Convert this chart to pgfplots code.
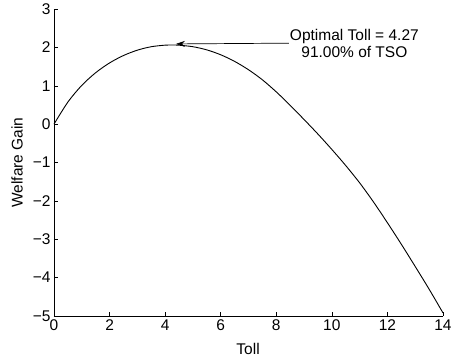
\documentclass[border=0pt]{standalone}
\usepackage{fontspec}
\setmainfont{Liberation Sans}
\usepackage{pgfplots}
\pgfplotsset{compat=1.18}
\usetikzlibrary{arrows.meta}
\begin{document}
\begin{tikzpicture}[font=\fontsize{15.5}{17}\selectfont]
\useasboundingbox (-54pt,-44pt) rectangle (397pt,316pt);
\begin{axis}[
  at={(0,0)}, anchor=south west,
  scale only axis, width=389pt, height=307pt,
  xmin=0, xmax=14, ymin=-5, ymax=3,
  axis x line*=bottom, axis y line*=left,
  axis line style={-, line width=0.6pt},
  xtick={0,2,...,14}, ytick={-5,-4,...,3},
  yticklabels={−5,−4,−3,−2,−1,0,1,2,3},
  tick align=inside, major tick length=4pt,
  tick style={black, line width=0.5pt},
  /pgf/number format/assume math mode=true,
  tick label style={font=\fontsize{15.5}{17}\selectfont},
  label style={font=\fontsize{15.5}{17}\selectfont},
  xlabel={Toll}, ylabel={Welfare Gain},
  xlabel style={at={(axis description cs:0.499,-0.107)}, anchor=center},
  ylabel style={at={(axis description cs:-0.095,0.5)}, anchor=center},
  clip=false,
]
\addplot[black, line width=0.9pt, smooth] coordinates {
(0,0) (0.5,0.575) (1,1.01) (1.5,1.34) (2,1.595) (2.5,1.7875) (3,1.9275)
(3.5,2.0175) (4,2.058) (4.27,2.062) (4.5,2.057) (5,2.0175) (5.5,1.935)
(6,1.8075) (6.5,1.635) (7,1.4175) (7.5,1.155) (8,0.84) (8.5,0.49)
(9,0.12) (9.5,-0.26) (10,-0.66) (10.5,-1.08) (11,-1.53) (11.5,-2.03)
(12,-2.57) (12.5,-3.13) (13,-3.71) (13.5,-4.30) (14,-4.92)
};
\draw[-{Stealth[length=9pt,width=6pt,inset=3pt]}, line width=0.7pt] (axis cs:8.45,2.11) -- (axis cs:4.39,2.09);
\node[anchor=west, align=center, inner sep=1pt] at (axis cs:8.45,2.11) {Optimal Toll = 4.27\\91.00\% of TSO};
\end{axis}
\end{tikzpicture}
\end{document}
